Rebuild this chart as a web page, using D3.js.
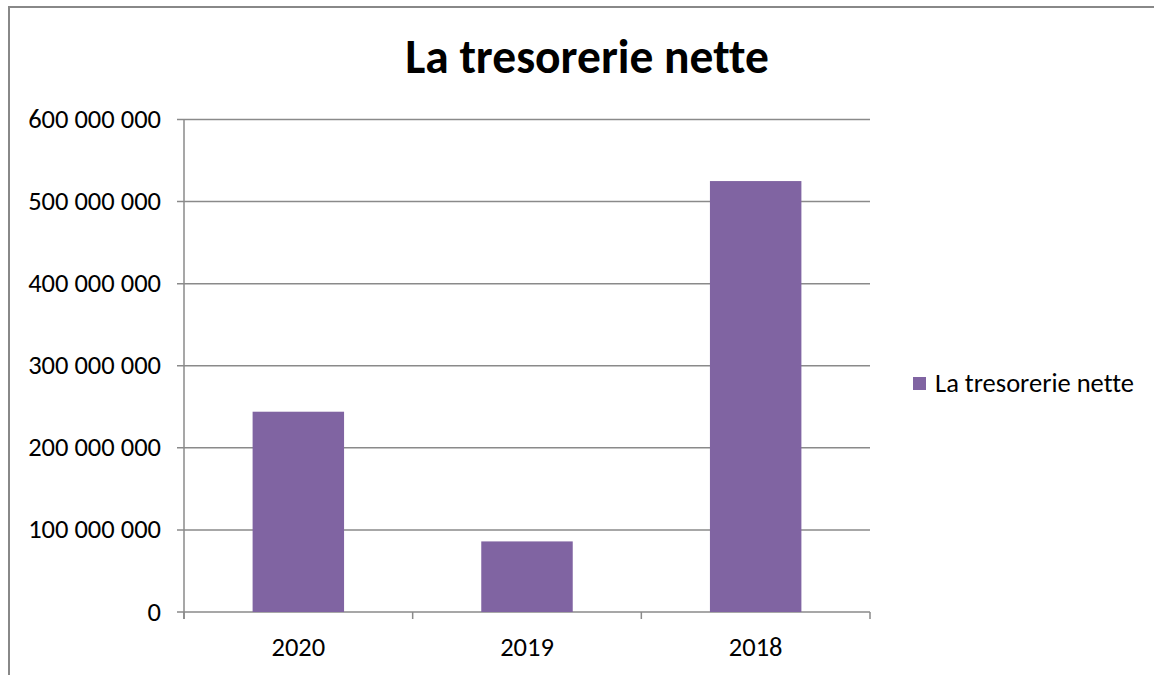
<!DOCTYPE html>
<html>
<head>
<meta charset="utf-8">
<script src="https://cdn.jsdelivr.net/npm/d3@7"></script>
<style>
    body { margin: 0; background: #fff; }
    svg { display: block; }
    text { font-family: Carlito, Calibri, Lato, sans-serif; fill: #000; font-variant-ligatures: none; }
</style>
</head>
<body>
<svg id="chart" width="1154" height="675"></svg>
<script>
// values
const years = ['2020', '2019', '2018'];
const tresorerie = [244000000, 86000000, 525000000];
const yTicks = [0, 100000000, 200000000, 300000000, 400000000, 500000000, 600000000];
const seriesName = 'La tresorerie nette';
const chartTitle = 'La tresorerie nette';

const width = 1154, height = 675;
const plot = { left: 184, right: 870, top: 119.5, bottom: 612 };

const svg = d3.select('#chart');

// outer frame of the chart area
svg.append('rect')
    .attr('x', 9).attr('y', 7)
    .attr('width', width + 20).attr('height', height + 20)
    .attr('fill', '#fff')
    .attr('stroke', '#888')
    .attr('stroke-width', 2);

const x = d3.scaleBand()
    .domain(years)
    .range([plot.left, plot.right])
    .paddingInner(0.6)
    .paddingOuter(0.3);

const y = d3.scaleLinear()
    .domain([0, 600000000])
    .range([plot.bottom, plot.top]);

const fmt = v => d3.format(',')(v).replace(/,/g, ' ');

// gridlines
svg.append('g')
    .selectAll('line')
    .data(yTicks)
    .join('line')
    .attr('x1', plot.left - 7)
    .attr('x2', plot.right)
    .attr('y1', d => y(d))
    .attr('y2', d => y(d))
    .attr('stroke', '#8a8a8a')
    .attr('stroke-width', 1.5);

// y labels
svg.append('g')
    .selectAll('text')
    .data(yTicks)
    .join('text')
    .attr('x', 161)
    .attr('y', d => y(d) + 8.5)
    .attr('text-anchor', 'end')
    .style('font-size', '26.5px')
    .text(fmt);

// bars
svg.append('g')
    .selectAll('rect')
    .data(tresorerie)
    .join('rect')
    .attr('x', (d, i) => x(years[i]))
    .attr('width', x.bandwidth())
    .attr('y', d => y(d))
    .attr('height', d => y(0) - y(d))
    .attr('fill', '#8064a2');

// y axis line
svg.append('line')
    .attr('x1', plot.left).attr('x2', plot.left)
    .attr('y1', plot.top).attr('y2', plot.bottom + 7)
    .attr('stroke', '#8a8a8a').attr('stroke-width', 1.5);

// x axis ticks between categories
const step = (plot.right - plot.left) / years.length;
svg.append('g')
    .selectAll('line')
    .data(d3.range(years.length + 1))
    .join('line')
    .attr('x1', i => plot.left + i * step)
    .attr('x2', i => plot.left + i * step)
    .attr('y1', plot.bottom)
    .attr('y2', plot.bottom + 7)
    .attr('stroke', '#8a8a8a').attr('stroke-width', 1.5);

// x labels
svg.append('g')
    .selectAll('text')
    .data(years)
    .join('text')
    .attr('x', d => x(d) + x.bandwidth() / 2)
    .attr('y', 656)
    .attr('text-anchor', 'middle')
    .style('font-size', '26.5px')
    .text(d => d);

// title
svg.append('text')
    .attr('x', 587)
    .attr('y', 73)
    .attr('text-anchor', 'middle')
    .style('font-size', '47.5px')
    .style('font-weight', 'bold')
    .text(chartTitle);

// legend
svg.append('rect')
    .attr('x', 913).attr('y', 377)
    .attr('width', 13).attr('height', 13)
    .attr('fill', '#8064a2');

svg.append('text')
    .attr('x', 935)
    .attr('y', 392)
    .style('font-size', '26.5px')
    .text(seriesName);
</script>
</body>
</html>
